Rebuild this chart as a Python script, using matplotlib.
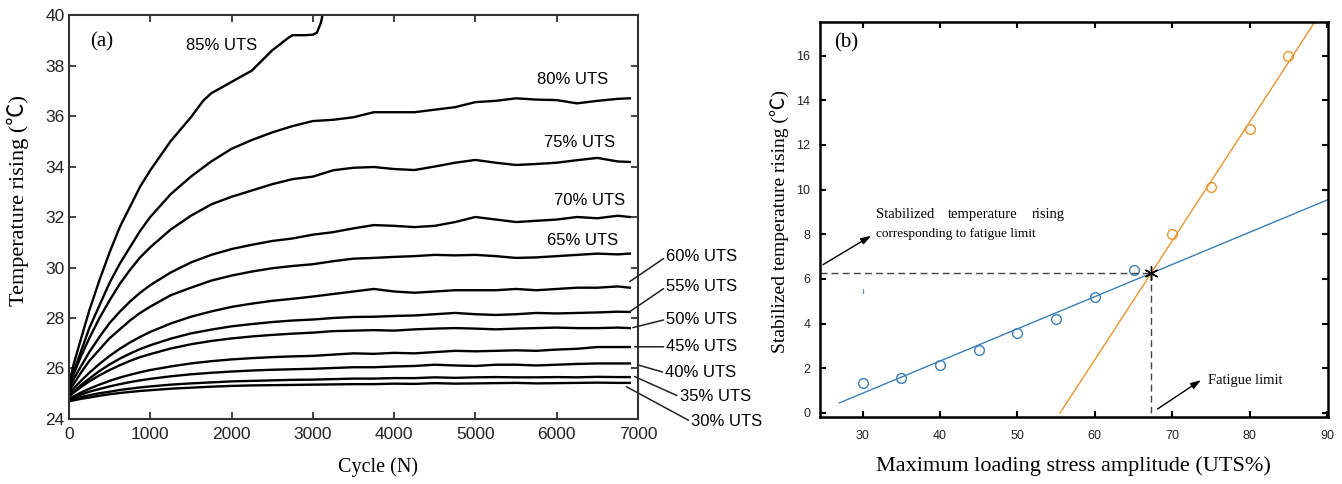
import numpy as np
import matplotlib
matplotlib.use("Agg")
import matplotlib.pyplot as plt

# ---- panel (a) data: temperature vs cycle ----
cycles = [0, 60, 150, 250, 375, 500, 625, 750, 875, 1000, 1250, 1500, 1750, 2000,
          2250, 2500, 2750, 3000, 3250, 3500, 3750, 4000, 4250, 4500, 4750, 5000,
          5250, 5500, 5750, 6000, 6250, 6500, 6750, 6900]

cycles_85 = [0, 60, 150, 250, 375, 500, 625, 750, 875, 1000, 1250, 1500, 1650, 1750,
             2000, 2250, 2500, 2600, 2700, 2750, 2900, 3000, 3050, 3100, 3150]
temp_85 = [25.4, 26.2, 27.2, 28.3, 29.5, 30.6, 31.6, 32.4, 33.2, 33.85, 35.0, 35.95, 36.6, 36.9,
           37.35, 37.8, 38.6, 38.85, 39.1, 39.2, 39.2, 39.22, 39.3, 39.7, 40.5]

temp_80 = [25.3, 25.9, 26.7, 27.6, 28.5, 29.4, 30.15, 30.8, 31.45, 32.0, 32.9, 33.6, 34.2, 34.7,
           35.05, 35.35, 35.6, 35.8, 35.85, 35.95, 36.15, 36.15, 36.15, 36.25, 36.35, 36.55,
           36.6, 36.7, 36.65, 36.63, 36.5, 36.6, 36.68, 36.7]
temp_75 = [25.3, 25.8, 26.5, 27.2, 28.0, 28.7, 29.35, 29.9, 30.4, 30.8, 31.5, 32.05, 32.5, 32.8,
           33.05, 33.3, 33.5, 33.6, 33.85, 33.95, 33.98, 33.9, 33.86, 34.0, 34.15, 34.26,
           34.15, 34.06, 34.1, 34.15, 34.25, 34.34, 34.2, 34.18]
temp_70 = [25.2, 25.6, 26.1, 26.65, 27.25, 27.8, 28.25, 28.65, 29.0, 29.3, 29.8, 30.2, 30.5, 30.73,
           30.9, 31.05, 31.15, 31.3, 31.4, 31.55, 31.68, 31.65, 31.6, 31.65, 31.8, 32.0,
           31.9, 31.8, 31.85, 31.9, 32.0, 31.95, 32.05, 32.0]
temp_65 = [25.1, 25.4, 25.85, 26.3, 26.75, 27.2, 27.55, 27.9, 28.2, 28.45, 28.9, 29.2, 29.48, 29.68,
           29.84, 29.97, 30.06, 30.13, 30.25, 30.35, 30.38, 30.42, 30.45, 30.5, 30.48, 30.5,
           30.45, 30.38, 30.4, 30.45, 30.5, 30.55, 30.52, 30.55]
temp_60 = [25.0, 25.22, 25.52, 25.83, 26.18, 26.5, 26.78, 27.03, 27.25, 27.45, 27.78, 28.05, 28.26, 28.44,
           28.57, 28.68, 28.76, 28.85, 28.95, 29.05, 29.15, 29.05, 29.0, 29.05, 29.1, 29.1,
           29.1, 29.15, 29.1, 29.15, 29.2, 29.2, 29.25, 29.2]
temp_55 = [24.9, 25.09, 25.35, 25.6, 25.9, 26.16, 26.39, 26.59, 26.77, 26.92, 27.18, 27.39, 27.54, 27.67,
           27.76, 27.84, 27.9, 27.94, 28.0, 28.04, 28.05, 28.08, 28.1, 28.15, 28.2, 28.15,
           28.12, 28.15, 28.2, 28.18, 28.2, 28.22, 28.25, 28.24]
temp_50 = [24.9, 25.05, 25.27, 25.49, 25.73, 25.94, 26.13, 26.3, 26.45, 26.57, 26.79, 26.96, 27.09, 27.19,
           27.27, 27.33, 27.38, 27.42, 27.48, 27.5, 27.52, 27.5, 27.55, 27.58, 27.6, 27.58,
           27.55, 27.58, 27.6, 27.62, 27.6, 27.6, 27.62, 27.6]
temp_45 = [24.8, 24.9, 25.05, 25.2, 25.36, 25.51, 25.64, 25.75, 25.85, 25.94, 26.08, 26.2, 26.29, 26.36,
           26.41, 26.45, 26.48, 26.5, 26.55, 26.6, 26.58, 26.62, 26.6, 26.65, 26.7, 26.68,
           26.7, 26.72, 26.7, 26.75, 26.78, 26.85, 26.85, 26.85]
temp_40 = [24.8, 24.87, 24.97, 25.08, 25.19, 25.29, 25.38, 25.46, 25.53, 25.59, 25.69, 25.77, 25.83, 25.88,
           25.92, 25.95, 25.97, 25.99, 26.02, 26.05, 26.05, 26.08, 26.1, 26.15, 26.12, 26.1,
           26.15, 26.15, 26.12, 26.15, 26.18, 26.2, 26.2, 26.2]
temp_35 = [24.75, 24.8, 24.87, 24.94, 25.02, 25.08, 25.15, 25.2, 25.25, 25.29, 25.36, 25.41, 25.45, 25.49,
           25.51, 25.53, 25.55, 25.56, 25.58, 25.6, 25.6, 25.62, 25.62, 25.65, 25.63, 25.65,
           25.66, 25.65, 25.65, 25.66, 25.65, 25.67, 25.66, 25.66]
temp_30 = [24.7, 24.74, 24.8, 24.85, 24.92, 24.98, 25.03, 25.07, 25.11, 25.14, 25.2, 25.24, 25.28, 25.31,
           25.33, 25.34, 25.35, 25.36, 25.37, 25.38, 25.38, 25.4, 25.39, 25.42, 25.4, 25.41,
           25.42, 25.43, 25.41, 25.42, 25.43, 25.44, 25.43, 25.43]

# labels inside the frame
inner_labels = ["85% UTS", "80% UTS", "75% UTS", "70% UTS", "65% UTS"]
inner_pos = [(1882, 38.8), (6197, 37.43), (6283, 34.97), (6406, 32.67), (6320, 31.05)]

# labels outside the frame with leader lines
outer_labels = ["60% UTS", "55% UTS", "50% UTS", "45% UTS", "40% UTS", "35% UTS", "30% UTS"]
outer_start = [(6898, 29.44), (6898, 28.25), (6938, 27.62), (6959, 26.86),
               (7000, 26.14), (6959, 25.68), (6857, 25.28)]
outer_text = [(7349, 30.43), (7349, 29.24), (7349, 27.95), (7349, 26.86),
              (7337, 25.83), (7513, 24.88), (7656, 23.89)]

# ---- panel (b) data: stabilized temperature rise ----
stress_low = [30, 35, 40, 45, 50, 55, 60, 65]
rise_low = [1.35, 1.55, 2.15, 2.8, 3.6, 4.2, 5.2, 6.4]
stress_high = [70, 75, 80, 85]
rise_high = [8.0, 10.1, 12.7, 16.0]

BLUE = "#3b7fb6"
ORANGE = "#e8952f"

sans = ["Liberation Sans", "DejaVu Sans"]
serif = ["Liberation Serif", "Noto Sans CJK SC", "DejaVu Serif"]

fig = plt.figure(figsize=(13.42, 4.84), dpi=100)

#region panel (a)
ax1 = fig.add_axes([0.0514, 0.1343, 0.424, 0.8347])

ax1.plot(cycles_85, temp_85, color="black", lw=1.7)
for t in [temp_80, temp_75, temp_70, temp_65, temp_60, temp_55,
          temp_50, temp_45, temp_40, temp_35, temp_30]:
    ax1.plot(cycles, t, color="black", lw=1.7)

ax1.set_xlim(0, 7000)
ax1.set_ylim(24, 40)
ax1.set_xticks(np.arange(0, 7001, 1000))
ax1.set_yticks(np.arange(24, 41, 2))
ax1.tick_params(direction="in", length=5, width=1.2, top=True, right=True,
                labelsize=12.5, colors="#222222")
ax1.tick_params(axis="x", pad=6)
ax1.tick_params(axis="y", pad=3)
for lab in ax1.get_xticklabels() + ax1.get_yticklabels():
    lab.set_family(sans)
for sp in ax1.spines.values():
    sp.set_color("#333333")
    sp.set_linewidth(1.5)

ax1.set_xlabel("Cycle (N)", family=serif, fontsize=14.5, va="center")
ax1.xaxis.set_label_coords(0.543, -0.119)
ax1.set_ylabel("Temperature rising (\u2103)", family=serif, fontsize=16, va="center")
ax1.yaxis.set_label_coords(-0.0896, 0.54)

ax1.text(258, 38.93, "(a)", family=serif, fontsize=15, va="center", ha="left")

for lab, (x, y) in zip(inner_labels, inner_pos):
    ax1.text(x, y, lab, family=sans, fontsize=12, ha="center", va="center")

for lab, s, t in zip(outer_labels, outer_start, outer_text):
    ax1.annotate(lab, xy=s, xytext=t, family=sans, fontsize=12, ha="left", va="center",
                 annotation_clip=False,
                 arrowprops=dict(arrowstyle="-", color="#222222", lw=1.1,
                                 shrinkA=0, shrinkB=0, relpos=(0, 0.5)))
#endregion

#region panel (b)
ax2 = fig.add_axes([0.611, 0.1384, 0.3785, 0.8161])

xlim2 = (24.5, 90.1)
ylim2 = (-0.18, 17.5)

p_low = np.polyfit(stress_low, rise_low, 1)
p_high = np.polyfit(stress_high, rise_high, 1)
x_cross = (p_high[1] - p_low[1]) / (p_low[0] - p_high[0])
y_cross = np.polyval(p_low, x_cross)

xl = np.array([27, xlim2[1]])
ax2.plot(xl, np.polyval(p_low, xl), color=BLUE, lw=1.0)
xh = np.array([-p_high[1] / p_high[0], xlim2[1]])
ax2.plot(xh, np.polyval(p_high, xh), color=ORANGE, lw=1.0)

ax2.plot(stress_low, rise_low, "o", mfc="none", mec=BLUE, ms=7, mew=1.0)
ax2.plot(stress_high, rise_high, "o", mfc="none", mec=ORANGE, ms=7, mew=1.0)

ax2.plot([xlim2[0], x_cross], [y_cross, y_cross], ls=(0, (5, 3)), color="#444444", lw=1.0)
ax2.plot([x_cross, x_cross], [y_cross, 0], ls=(0, (5, 3)), color="#444444", lw=1.0)
ax2.plot(x_cross, y_cross, marker=(6, 2, 0), color="black", ms=10, mew=1.0)

# small stray mark
ax2.plot([30, 30], [5.35, 5.55], color="#6a8fb0", lw=0.9)

ax2.set_xlim(*xlim2)
ax2.set_ylim(*ylim2)
ax2.set_xticks(np.arange(30, 91, 10))
ax2.set_yticks(np.arange(0, 17, 2))
ax2.tick_params(direction="in", length=4, width=1.5, top=True, right=True,
                labelsize=9, colors="black")
ax2.tick_params(axis="x", pad=9)
ax2.tick_params(axis="y", pad=7)
for lab in ax2.get_xticklabels() + ax2.get_yticklabels():
    lab.set_family(sans)
    lab.set_color("#222222")
for sp in ax2.spines.values():
    sp.set_color("black")
    sp.set_linewidth(1.8)

ax2.set_xlabel("Maximum loading stress amplitude (UTS%)", family=serif, fontsize=16, va="center")
ax2.xaxis.set_label_coords(0.5, -0.124)
ax2.set_ylabel("Stabilized temperature rising (\u2103)", family=serif, fontsize=14, va="center")
ax2.yaxis.set_label_coords(-0.0768, 0.494)

ax2.text(26.3, 16.55, "(b)", family=serif, fontsize=15, va="center", ha="left")

ax2.text(31.75, 8.9, "Stabilized", family=serif, fontsize=10.5, va="center", ha="left")
ax2.text(41.0, 8.9, "temperature", family=serif, fontsize=10.5, va="center", ha="left")
ax2.text(51.9, 8.9, "rising", family=serif, fontsize=10.5, va="center", ha="left")
ax2.text(31.75, 8.0, "corresponding to fatigue limit", family=serif, fontsize=9.6,
         va="center", ha="left")
ax2.annotate("", xy=(31.1, 7.93), xytext=(24.9, 6.64), annotation_clip=False,
             arrowprops=dict(arrowstyle="-|>,head_length=0.6,head_width=0.2", color="black",
                             lw=1.0, shrinkA=0, shrinkB=0))

ax2.text(74.6, 1.45, "Fatigue limit", family=serif, fontsize=10.5, va="center", ha="left")
ax2.annotate("", xy=(73.7, 1.47), xytext=(68.1, 0.18),
             arrowprops=dict(arrowstyle="-|>,head_length=0.6,head_width=0.2", color="black",
                             lw=1.0, shrinkA=0, shrinkB=0))
#endregion

fig.savefig("out.png", dpi=100)
